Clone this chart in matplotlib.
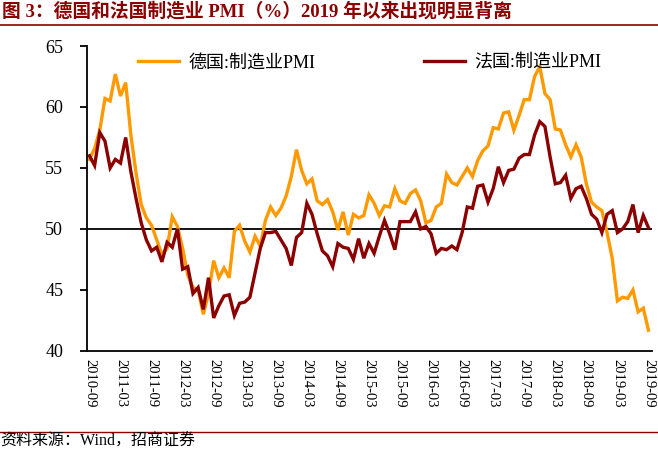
import matplotlib
matplotlib.use("Agg")
from matplotlib import pyplot as plt
import pandas as pd

# Months 2010-09 .. 2019-09
months = pd.period_range("2010-09", "2019-09", freq="M").strftime("%Y-%m").tolist()

germany = [
    55.7, 56.6, 58.1, 60.7,
    60.5, 62.7, 60.9, 62.0, 57.7, 54.6, 52.0, 50.9, 50.3, 49.1, 47.9, 48.4,
    51.0, 50.2, 48.4, 46.2, 45.2, 45.0, 43.0, 44.7, 47.4, 46.0, 46.8, 46.0,
    49.8, 50.3, 49.0, 48.1, 49.4, 48.6, 50.7, 51.8, 51.1, 51.7, 52.7, 54.3,
    56.5, 54.8, 53.7, 54.1, 52.3, 52.0, 52.4, 51.4, 49.9, 51.4, 49.5, 51.2,
    50.9, 51.1, 52.8, 52.1, 51.1, 51.9, 51.8, 53.3, 52.3, 52.1, 52.9, 53.2,
    52.3, 50.5, 50.7, 51.8, 52.1, 54.5, 53.8, 53.6, 54.3, 55.0, 54.3, 55.6,
    56.4, 56.8, 58.3, 58.2, 59.5, 59.6, 58.1, 59.3, 60.6, 60.6, 62.5, 63.3,
    61.1, 60.6, 58.2, 58.1, 56.9, 55.9, 56.9, 55.9, 53.7, 52.2, 51.8, 51.5,
    49.7, 47.6, 44.1, 44.4, 44.3, 45.0, 43.2, 43.5, 41.7,
]

france = [
    56.0, 55.2, 57.9, 57.2,
    55.0, 55.7, 55.4, 57.5, 54.7, 52.5, 50.5, 49.1, 48.2, 48.5, 47.3, 48.9,
    48.5, 50.0, 46.7, 46.9, 44.7, 45.2, 43.4, 46.0, 42.7, 43.7, 44.5, 44.6,
    42.9, 43.9, 44.0, 44.4, 46.4, 48.4, 49.7, 49.7, 49.8, 49.1, 48.4, 47.0,
    49.3, 49.7, 52.1, 51.2, 49.6, 48.2, 47.8, 46.9, 48.8, 48.5, 48.4, 47.5,
    49.2, 47.6, 48.8, 48.0, 49.4, 50.7, 49.6, 48.3, 50.6, 50.6, 50.6, 51.4,
    50.0, 50.2, 49.6, 48.0, 48.4, 48.3, 48.6, 48.3, 49.7, 51.8, 51.7, 53.5,
    53.6, 52.2, 53.3, 55.1, 53.8, 54.8, 54.9, 55.8, 56.1, 56.1, 57.7, 58.8,
    58.4, 55.9, 53.7, 53.8, 54.4, 52.5, 53.3, 53.5, 52.5, 51.2, 50.8, 49.7,
    51.2, 51.5, 49.7, 50.0, 50.6, 52.0, 49.7, 51.1, 50.1,
]

series_names = ["德国:制造业PMI", "法国:制造业PMI"]
title = "图 3：德国和法国制造业 PMI（%）2019 年以来出现明显背离"
source = "资料来源：Wind，招商证券"

serif = ["Liberation Serif", "Noto Sans CJK SC"]
plt.rcParams["font.family"] = serif

dark_red = "#8B0000"
orange = "#FF9900"

fig = plt.figure(figsize=(6.58, 4.51), dpi=100)
ax = fig.add_axes([0.132, 0.222, 0.859, 0.676])

x = range(len(months))
ax.plot(x, germany, color=orange, lw=2.4, label=series_names[0], solid_joinstyle="miter")
ax.plot(x, france, color=dark_red, lw=2.4, label=series_names[1], solid_joinstyle="miter")
ax.axhline(50, color="black", lw=1.3, zorder=1)

ax.set_ylim(40, 65)
ax.set_yticks(range(40, 66, 5))
ax.set_xlim(-0.5, len(months) - 0.3)
xt = list(range(0, len(months), 6))
ax.set_xticks(xt)
ax.set_xticklabels([months[i] for i in xt], rotation=270, fontsize=10.5)
ax.tick_params(axis="x", length=0, pad=6)
ax.tick_params(axis="y", labelsize=13, length=5, width=1.3, direction="out", pad=12)

for side in ["top", "right"]:
    ax.spines[side].set_visible(False)
ax.spines["left"].set_linewidth(1.3)
ax.spines["bottom"].set_linewidth(1.3)

ax.legend(loc="upper center", bbox_to_anchor=(0.5, 1.025), ncol=2, frameon=False,
          fontsize=13, handlelength=2.3, columnspacing=6.0, handletextpad=0.5)

# Title and source
fig.text(0.003, 0.975, title, fontsize=13.5, fontweight="bold", color=dark_red,
         family=["Liberation Serif", "Noto Sans CJK SC"], va="center", ha="left")
fig.add_artist(plt.Line2D([0, 1], [0.944, 0.944], color=dark_red, lw=1.2))
fig.add_artist(plt.Line2D([0, 1], [0.042, 0.042], color=dark_red, lw=1.0))
fig.text(0.0, 0.02, source, fontsize=11.5, color="black", va="center", ha="left")

fig.savefig("out.png", dpi=100)
